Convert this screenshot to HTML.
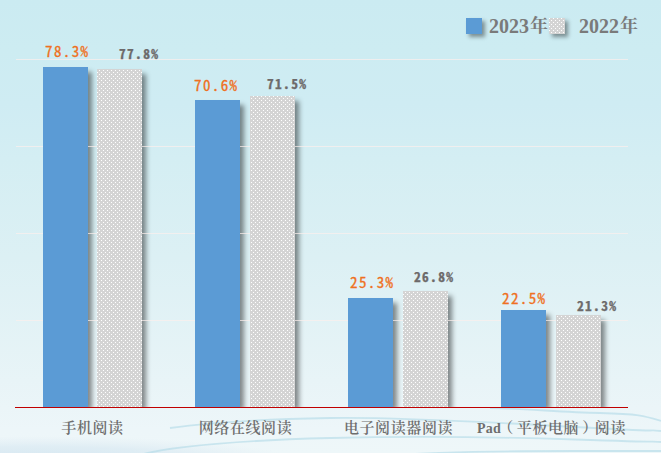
<!DOCTYPE html>
<html><head><meta charset="utf-8">
<style>
html,body{margin:0;padding:0;}
body{width:661px;height:453px;overflow:hidden;position:relative;
background:linear-gradient(180deg,#cbebf2 0%,#cdecf2 11%,#cfecf3 23%,#d4eef3 35%,#dcf0f4 57%,#e8f4f7 84%,#ebf5f8 90%,#edf6f9 95%,#eef7f9 100%);
font-family:"Liberation Sans","Noto Sans CJK SC",sans-serif;}
.bgd{position:absolute;left:0;top:0;}
.plot{position:absolute;left:0;top:0;width:661px;height:407px;overflow:hidden;}
.g{position:absolute;left:16px;width:612px;height:1px;background:rgba(252,239,236,0.7);}
.ax{position:absolute;left:15px;width:613px;top:407px;height:1px;background:#c00000;}
.b{position:absolute;width:45px;}
.sh{position:absolute;width:45px;box-shadow:5px 4px 5px -1px rgba(0,0,0,0.45);}
.bl{background:#5b9bd5;}
.gr{background-color:#d4d4d4;
background-image:radial-gradient(circle at 1.5px 0.5px,#fff 0.7px,transparent 0.9px),radial-gradient(circle at 3.5px 2.5px,#fff 0.7px,transparent 0.9px);
background-size:4px 4px;background-attachment:fixed;background-position:0 0;}
.lb{position:absolute;font-family:"Noto Sans Mono CJK SC","Liberation Mono",monospace;line-height:16px;white-space:nowrap;}
.o{color:#ef7021;font-size:15px;letter-spacing:1.4px;-webkit-text-stroke:0.3px #ef7021;}
.k{color:#6d6a6a;font-size:13.5px;letter-spacing:1.3px;font-weight:bold;-webkit-text-stroke:0.25px #6d6a6a;}
.cat{position:absolute;top:419px;font-family:"Liberation Serif","Noto Serif CJK SC",serif;font-weight:600;font-size:15px;letter-spacing:0.6px;line-height:18px;color:#6e6e6e;white-space:nowrap;text-align:center;width:153px;}
.cat b{font-weight:bold;letter-spacing:0.3px;font-size:14px;}
.cat i{font-style:normal;position:relative;}
.leg{position:absolute;top:14px;font-family:"Liberation Serif","Noto Serif CJK SC",serif;font-size:20px;font-weight:bold;line-height:24px;color:#7a7a7a;white-space:nowrap;}
.leg span{font-family:"Noto Serif CJK SC",serif;font-size:18px;font-weight:700;margin-left:1px;vertical-align:top;position:relative;top:-2px;}
.sq{position:absolute;top:18px;width:16px;height:16px;box-shadow:3px 3px 4px rgba(0,0,0,0.4);}
</style></head><body>
<svg class="bgd" width="661" height="453" viewBox="0 0 661 453">
<defs>
<radialGradient id="bb" cx="0.5" cy="0.5" r="0.5"><stop offset="0" stop-color="#d2e4f0" stop-opacity="0.95"/><stop offset="0.6" stop-color="#d6e7f1" stop-opacity="0.6"/><stop offset="1" stop-color="#dde9f2" stop-opacity="0"/></radialGradient>
<filter id="bl1" x="-10%" y="-50%" width="120%" height="200%"><feGaussianBlur stdDeviation="0.6"/></filter>
</defs>
<ellipse cx="40" cy="462" rx="260" ry="26" fill="url(#bb)"/>
<g fill="none" stroke="#b5dbe8" stroke-width="1.8" stroke-opacity="0.65" filter="url(#bl1)">
<path d="M170 428 C220 421 270 419 330 418 S470 421 575 427 S640 429 661 431"/>
<path d="M140 455 C170 446 250 440 330 438 S470 436 575 439.5 S640 441 661 442"/>
<path d="M490 408 C530 409 560 412 600 413 S645 416 661 421"/>
<path d="M330 460 C400 453 470 451 575 451 S640 451 661 451"/>
</g>
</svg>
<div class="plot">
<div class="sh" style="left:43px;top:67px;height:340px"></div>
<div class="sh" style="left:97px;top:69px;height:338px"></div>
<div class="sh" style="left:195px;top:100px;height:307px"></div>
<div class="sh" style="left:250px;top:96px;height:311px"></div>
<div class="sh" style="left:348px;top:298px;height:109px"></div>
<div class="sh" style="left:403px;top:291px;height:116px"></div>
<div class="sh" style="left:501px;top:310px;height:97px"></div>
<div class="sh" style="left:556px;top:315px;height:92px"></div>
<div class="g" style="top:59px"></div>
<div class="g" style="top:146px"></div>
<div class="g" style="top:233px"></div>
<div class="g" style="top:320px"></div>
<div class="b bl" style="left:43px;top:67px;height:340px"></div>
<div class="b gr" style="left:97px;top:69px;height:338px"></div>
<div class="b bl" style="left:195px;top:100px;height:307px"></div>
<div class="b gr" style="left:250px;top:96px;height:311px"></div>
<div class="b bl" style="left:348px;top:298px;height:109px"></div>
<div class="b gr" style="left:403px;top:291px;height:116px"></div>
<div class="b bl" style="left:501px;top:310px;height:97px"></div>
<div class="b gr" style="left:556px;top:315px;height:92px"></div>
</div>
<div class="ax"></div>

<div class="lb o" style="left:45px;top:43px">78.3%</div>
<div class="lb k" style="left:119px;top:45px">77.8%</div>
<div class="lb o" style="left:194px;top:77px">70.6%</div>
<div class="lb k" style="left:267px;top:75px">71.5%</div>
<div class="lb o" style="left:350px;top:274px">25.3%</div>
<div class="lb k" style="left:414px;top:268px">26.8%</div>
<div class="lb o" style="left:502px;top:290px">22.5%</div>
<div class="lb k" style="left:577px;top:297px">21.3%</div>

<div class="cat" style="left:16px">手机阅读</div>
<div class="cat" style="left:169px">网络在线阅读</div>
<div class="cat" style="left:322px">电子阅读器阅读</div>
<div class="cat" style="left:475px"><b>Pad</b><i style="left:-3px">（</i>平板电脑<i style="left:3px">）</i>阅读</div>

<div class="sq bl" style="left:466px"></div>
<div class="leg" style="left:489px">2023<span>年</span></div>
<div class="sq gr" style="left:549px;background-position:2px 0"></div>
<div class="leg" style="left:579px">2022<span>年</span></div>
</body></html>
